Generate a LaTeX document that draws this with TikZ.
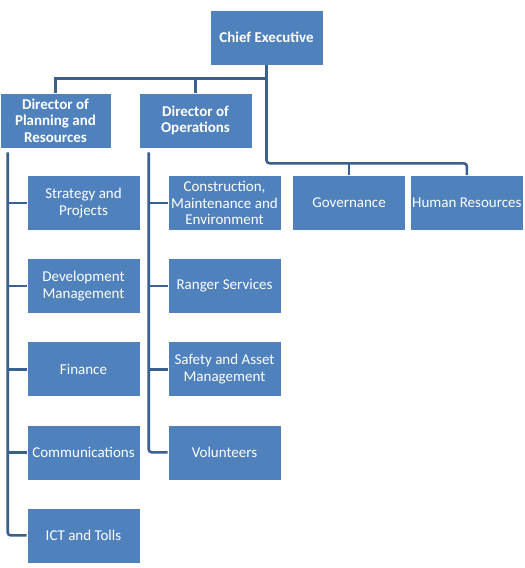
\documentclass[tikz,border=0pt]{standalone}
\usepackage{fontspec}
\setmainfont{Carlito}
\usetikzlibrary{positioning}
\definecolor{boxclr}{RGB}{79,129,189}
\definecolor{lineclr}{RGB}{58,96,142}
\tikzset{
  %% org chart block
  oblk/.style={rectangle,draw=white,line width=0.6pt,fill=boxclr,
    minimum width=113pt,minimum height=55pt,inner sep=2pt,
    font=\fontsize{15}{16.5}\selectfont,align=center,text=white},
  %% director / chief block
  dblk/.style={oblk,font=\fontsize{15}{16.5}\selectfont\bfseries},
  %% connector lines
  link/.style={draw=lineclr,line width=2.6pt},
}

\begin{document}
\begin{tikzpicture}[x=1pt,y=1pt]
  \useasboundingbox (0,0) rectangle (525,-568);
  \node[dblk] (ceo) at (266.5,-37.5) {Chief Executive};
  \node[dblk,minimum width=111pt] (dpr) at (55.5,-120.5) {Director of\\Planning and\\Resources};
  \node[dblk] (dops) at (195.5,-120.5) {Director of\\Operations};

  \node[oblk] (strat) at (83.5,-203) {Strategy and\\Projects};
  \node[oblk,below=27.5pt of strat] (dev)  {Development\\Management};
  \node[oblk,below=27.5pt of dev]   (fin)  {Finance};
  \node[oblk,below=27.5pt of fin]   (comm) {Communications};
  \node[oblk,below=27.5pt of comm]  (ict)  {ICT and Tolls};

  \node[oblk] (cme) at (224.5,-203) {Construction,\\Maintenance and\\Environment};
  \node[oblk,below=27.5pt of cme] (rng)  {Ranger Services};
  \node[oblk,below=27.5pt of rng] (safe) {Safety and Asset\\Management};
  \node[oblk,below=27.5pt of safe] (vol) {Volunteers};

  \node[oblk,right=11pt of cme] (gov) {Governance};
  \node[oblk,right=4pt of gov]  (hr)  {Human Resources};

  \draw[link] (dpr.north) -- ++(0,14) -| (ceo.south);
  \draw[link] (dops.north) -- ++(0,14);
  \draw[link,rounded corners=3pt] (ceo.south) -- ++(0,-98) -| (hr.north);
  \draw[link] (gov.north) -- ++(0,13);

  \coordinate (pspine) at ([xshift=8pt,yshift=-4pt]dpr.south west);
  \draw[link,rounded corners=3pt] (pspine) |- (ict.west);
  \foreach \n in {strat,dev,fin,comm}
    \draw[link] (pspine |- \n.west) -- (\n.west);

  \coordinate (ospine) at ([xshift=10pt,yshift=-4pt]dops.south west);
  \draw[link,rounded corners=3pt] (ospine) |- (vol.west);
  \foreach \n in {cme,rng,safe}
    \draw[link] (ospine |- \n.west) -- (\n.west);
\end{tikzpicture}
\end{document}
